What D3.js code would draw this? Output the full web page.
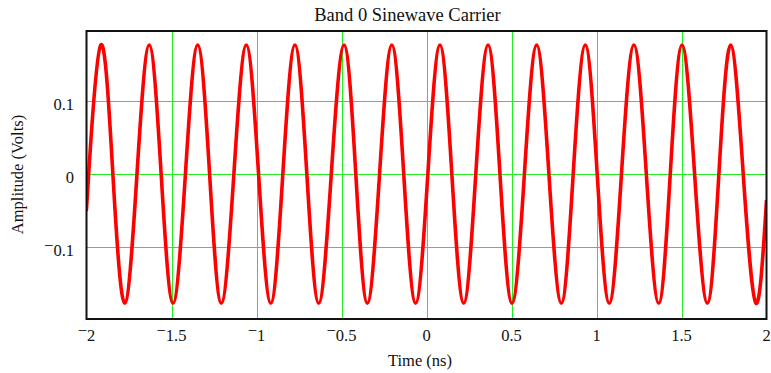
<!DOCTYPE html>
<html>
<head>
<meta charset="utf-8">
<script src="https://cdn.jsdelivr.net/npm/d3@7"></script>
<style>
  body { margin: 0; background: #fff; }
</style>
</head>
<body>
<div id="chart"></div>
<script>
// values (ns, volts): extrema and zero crossings
var waveTime = [-2.0, -1.987, -1.916, -1.845, -1.775, -1.703, -1.631, -1.561, -1.491, -1.418,
  -1.346, -1.276, -1.207, -1.133, -1.060, -0.988, -0.916, -0.845, -0.774, -0.704,
  -0.634, -0.560, -0.485, -0.416, -0.348, -0.276, -0.204, -0.134, -0.064, 0.008,
  0.079, 0.149, 0.219, 0.290, 0.362, 0.432, 0.503, 0.576, 0.648, 0.720,
  0.793, 0.863, 0.934, 1.004, 1.075, 1.147, 1.220, 1.293, 1.366, 1.434,
  1.503, 1.577, 1.652, 1.720, 1.789, 1.863, 1.938, 2.0];
var waveVolts = [-0.048, 0, 0.176, 0, -0.177, 0, 0.176, 0, -0.177, 0,
  0.176, 0, -0.177, 0, 0.176, 0, -0.177, 0, 0.176, 0,
  -0.177, 0, 0.176, 0, -0.177, 0, 0.176, 0, -0.177, 0,
  0.176, 0, -0.177, 0, 0.176, 0, -0.177, 0, 0.176, 0,
  -0.177, 0, 0.176, 0, -0.177, 0, 0.176, 0, -0.177, 0,
  0.176, 0, -0.177, 0, 0.176, 0, -0.177, -0.036];

var xTicks = [-2, -1.5, -1, -0.5, 0, 0.5, 1, 1.5, 2];
var yTicks = [0.1, 0, -0.1];

var width = 771, height = 373;
var serif = "'Liberation Serif', 'DejaVu Serif', 'Times New Roman', serif";

var x = d3.scaleLinear().domain([-2, 2]).range([86.5, 766.5]);
var y = d3.scaleLinear().domain([-0.1986, 0.1952]).range([319, 31]);

var svg = d3.select("#chart").append("svg")
    .attr("width", width)
    .attr("height", height)
    .style("font-family", serif)
    .attr("font-family", serif);

svg.append("defs").append("clipPath").attr("id", "clip")
  .append("rect")
    .attr("x", x.range()[0]).attr("y", y.range()[1])
    .attr("width", x.range()[1] - x.range()[0])
    .attr("height", y.range()[0] - y.range()[1]);

// grid
svg.append("g").selectAll("line")
  .data(xTicks.slice(1, -1))
  .join("line")
    .attr("x1", d => Math.round(x(d)) + 0.5).attr("x2", d => Math.round(x(d)) + 0.5)
    .attr("y1", y.range()[1]).attr("y2", y.range()[0])
    .attr("stroke", "#22ee22").attr("stroke-width", 1);

svg.append("g").selectAll("line")
  .data(yTicks)
  .join("line")
    .attr("x1", x.range()[0]).attr("x2", x.range()[1])
    .attr("y1", d => Math.round(y(d)) + 0.5).attr("y2", d => Math.round(y(d)) + 0.5)
    .attr("stroke", "#22ee22").attr("stroke-width", 1);

// wave
var line = d3.line()
    .x((d, i) => x(waveTime[i]))
    .y(d => y(d))
    .curve(d3.curveNatural);

svg.append("path")
    .datum(waveVolts)
    .attr("clip-path", "url(#clip)")
    .attr("fill", "none")
    .attr("stroke", "#ff0000")
    .attr("stroke-width", 3.6)
    .attr("stroke-linejoin", "round")
    .attr("d", line);

// frame
svg.append("rect")
    .attr("x", x.range()[0]).attr("y", y.range()[1])
    .attr("width", x.range()[1] - x.range()[0])
    .attr("height", y.range()[0] - y.range()[1])
    .attr("fill", "none")
    .attr("stroke", "#111")
    .attr("stroke-width", 2);

// tick labels, with the raised minus sign
function label(sel, v) {
  var s = String(Math.abs(v));
  if (v < 0) {
    sel.append("tspan").attr("dy", "-0.32em").text("\u2212");
    sel.append("tspan").attr("dy", "0.32em").text(s);
  } else {
    sel.text(s);
  }
}

svg.append("g").selectAll("text")
  .data(xTicks)
  .join("text")
    .attr("x", d => x(d))
    .attr("y", 341)
    .attr("text-anchor", "middle")
    .attr("fill", "#111")
    .style("font-size", "16.5px")
    .each(function(d) { label(d3.select(this), d); });

svg.append("g").selectAll("text")
  .data(yTicks)
  .join("text")
    .attr("x", 74)
    .attr("y", d => y(d) + 9)
    .attr("text-anchor", "end")
    .attr("fill", "#111")
    .style("font-size", "16.5px")
    .each(function(d) { label(d3.select(this), d); });

// titles
svg.append("text")
    .attr("x", 407.5).attr("y", 21)
    .attr("text-anchor", "middle")
    .attr("fill", "#111")
    .style("font-size", "18.5px")
    .text("Band 0 Sinewave Carrier");

svg.append("text")
    .attr("x", 420).attr("y", 366)
    .attr("text-anchor", "middle")
    .attr("fill", "#111")
    .style("font-size", "16.5px")
    .text("Time (ns)");

svg.append("text")
    .attr("transform", "translate(23,174.5) rotate(-90)")
    .attr("text-anchor", "middle")
    .attr("fill", "#111")
    .style("font-size", "16.5px")
    .text("Amplitude (Volts)");
</script>
</body>
</html>
